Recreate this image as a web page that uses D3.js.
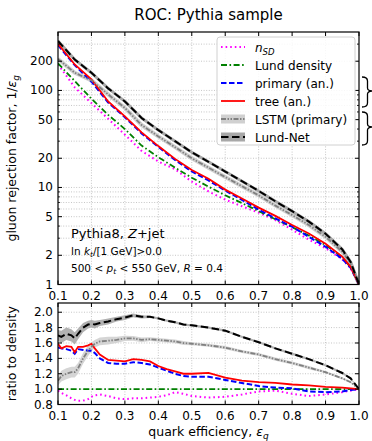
<!DOCTYPE html>
<html>
<head>
<meta charset="utf-8">
<script src="https://cdn.jsdelivr.net/npm/d3@7"></script>
<style>
  body { margin: 0; background: #fff; }
  svg { font-family: "DejaVu Sans", sans-serif; }
  .tick-label { font-size: 12px; fill: #000; }
</style>
</head>
<body>
<div id="chart"></div>
<script>
// ROC curves (top panel): quark efficiency vs gluon rejection
const rocEff = [0.1, 0.15, 0.2, 0.25, 0.3, 0.35, 0.4, 0.45, 0.5, 0.55, 0.6, 0.65, 0.7, 0.75, 0.8, 0.85, 0.9, 0.95, 0.975, 1.0];
const rocNsd      = [186, 107.5, 74, 51, 35, 23.8, 18.5, 15.4, 11.5, 9.1, 7.5, 6.4, 5.5, 4.6, 3.67, 2.9, 2.37, 1.82, 1.47, 1.0];
const rocDensity  = [190, 125, 82, 56, 40, 27, 20.5, 16, 12.6, 10.2, 8.3, 6.9, 5.7, 4.7, 3.9, 3.2, 2.55, 1.9, 1.5, 1.0];
const rocPrimary  = [293, 182, 123, 75, 53, 36, 26.2, 19.2, 14.6, 11.8, 9.3, 7.45, 5.9, 4.8, 3.94, 3.1, 2.45, 1.84, 1.49, 1.0];
const rocTree     = [302, 185, 130, 77, 54, 37, 26.7, 19.7, 15.1, 12.3, 9.5, 7.7, 6.2, 5.1, 4.1, 3.36, 2.63, 1.94, 1.52, 1.0];
const rocLstm     = [211, 152, 127, 91, 66, 44, 33.6, 26, 20, 16, 12.8, 10.3, 8.3, 6.5, 5.2, 4.1, 3.1, 2.17, 1.64, 1.0];
const rocLundNet  = [323, 208, 152, 105, 77, 52, 39, 30, 23, 18.4, 14.6, 11.6, 9.2, 7.2, 5.7, 4.45, 3.34, 2.3, 1.71, 1.0];

// ratio to Lund density (bottom panel)
const ratioEff = [0.1, 0.11, 0.125, 0.14, 0.15, 0.16, 0.175, 0.19, 0.2, 0.21, 0.225, 0.25, 0.275, 0.3, 0.325, 0.35, 0.375, 0.4, 0.425, 0.45, 0.475, 0.5, 0.55, 0.6, 0.65, 0.7, 0.75, 0.8, 0.85, 0.9, 0.95, 0.975, 1.0];
const ratioNsd     = [0.98, 0.95, 0.92, 0.88, 0.86, 0.85, 0.85, 0.87, 0.90, 0.92, 0.93, 0.91, 0.88, 0.87, 0.88, 0.88, 0.89, 0.90, 0.92, 0.96, 0.94, 0.91, 0.89, 0.90, 0.93, 0.97, 0.98, 0.94, 0.91, 0.93, 0.96, 0.98, 1.0];
const ratioDensity = [1, 1, 1, 1, 1, 1, 1, 1, 1, 1, 1, 1, 1, 1, 1, 1, 1, 1, 1, 1, 1, 1, 1, 1, 1, 1, 1, 1, 1, 1, 1, 1, 1];
const ratioPrimary = [1.54, 1.53, 1.52, 1.50, 1.46, 1.52, 1.51, 1.50, 1.50, 1.47, 1.40, 1.34, 1.33, 1.33, 1.35, 1.34, 1.32, 1.28, 1.24, 1.20, 1.17, 1.16, 1.16, 1.12, 1.08, 1.04, 1.02, 1.01, 0.97, 0.96, 0.97, 0.99, 1.0];
const ratioTree    = [1.59, 1.53, 1.56, 1.55, 1.48, 1.55, 1.55, 1.57, 1.59, 1.53, 1.45, 1.38, 1.37, 1.36, 1.39, 1.38, 1.36, 1.30, 1.26, 1.23, 1.20, 1.20, 1.21, 1.15, 1.11, 1.09, 1.08, 1.06, 1.05, 1.03, 1.02, 1.01, 1.0];
const ratioLstm    = [1.11, 1.17, 1.20, 1.22, 1.22, 1.27, 1.40, 1.50, 1.55, 1.59, 1.62, 1.63, 1.64, 1.66, 1.66, 1.64, 1.65, 1.64, 1.63, 1.62, 1.60, 1.59, 1.57, 1.54, 1.49, 1.45, 1.39, 1.34, 1.28, 1.22, 1.14, 1.09, 1.0];
const errLstm      = [0.06, 0.07, 0.07, 0.07, 0.07, 0.07, 0.07, 0.07, 0.06, 0.05, 0.05, 0.05, 0.04, 0.035, 0.03, 0.03, 0.025, 0.025, 0.025, 0.025, 0.025, 0.02, 0.02, 0.02, 0.02, 0.02, 0.02, 0.02, 0.02, 0.015, 0.015, 0.01, 0.005];
const ratioLundNet = [1.70, 1.68, 1.72, 1.70, 1.66, 1.72, 1.80, 1.84, 1.85, 1.84, 1.86, 1.88, 1.91, 1.93, 1.96, 1.94, 1.94, 1.92, 1.89, 1.87, 1.84, 1.83, 1.80, 1.76, 1.68, 1.61, 1.53, 1.46, 1.39, 1.31, 1.21, 1.14, 1.0];
const errLundNet   = [0.07, 0.08, 0.08, 0.08, 0.08, 0.07, 0.06, 0.05, 0.05, 0.05, 0.04, 0.04, 0.03, 0.03, 0.025, 0.02, 0.015, 0.015, 0.015, 0.015, 0.015, 0.015, 0.015, 0.015, 0.015, 0.015, 0.015, 0.015, 0.015, 0.015, 0.015, 0.01, 0.005];

const xTicks = [0.1, 0.2, 0.3, 0.4, 0.5, 0.6, 0.7, 0.8, 0.9, 1.0];
const rocTicks = [1, 2, 5, 10, 20, 50, 100, 200];
const ratioTicks = [0.8, 1.0, 1.2, 1.4, 1.6, 1.8, 2.0];

// series styles (order = legend order)
const series = [
  { key: "nsd", label: "n_SD", roc: rocNsd, ratio: ratioNsd, color: "#ff00ff", dash: "1.6,3", width: 2 },
  { key: "density", label: "Lund density", roc: rocDensity, ratio: ratioDensity, color: "#008000", dash: "6,2.5,1.6,2.5", width: 1.8 },
  { key: "primary", label: "primary (an.)", roc: rocPrimary, ratio: ratioPrimary, color: "#0000ff", dash: "5.5,2.5", width: 2 },
  { key: "tree", label: "tree (an.)", roc: rocTree, ratio: ratioTree, color: "#ff0000", dash: null, width: 1.8 },
  { key: "lstm", label: "LSTM (primary)", roc: rocLstm, ratio: ratioLstm, err: errLstm, color: "#808080", dash: "5,1.5,1.5,1.5,1.5,1.5", width: 1.8, band: "#d0d0d0", bandTop: 4 },
  { key: "lundnet", label: "Lund-Net", roc: rocLundNet, ratio: ratioLundNet, err: errLundNet, color: "#000000", dash: "7.5,3.5", width: 2, band: "#a8a8a8", bandTop: 3 }
];

const W = 372, H = 441;
const left = 58, right = 359;
const top1 = 32, bot1 = 284.5;
const top2 = 303, bot2 = 404.5;

const svg = d3.select("#chart").append("svg")
  .attr("width", W).attr("height", H);

const x = d3.scaleLinear().domain([0.1, 1.0]).range([left, right]);
const y1 = d3.scaleLog().domain([1, 400]).range([bot1, top1]);
const y2 = d3.scaleLinear().domain([0.8, 2.12]).range([bot2, top2]);

// clip paths
function addClip(id, y0, y1_) {
  svg.append("clipPath").attr("id", id).append("rect")
    .attr("x", left).attr("y", y0).attr("width", right - left).attr("height", y1_ - y0);
}
addClip("clip1", top1, bot1);
addClip("clip2", top2, bot2);

// dotted grid
function grid(g, yScale, yVals, y0, yb) {
  const gridStyle = sel => sel.attr("stroke", "#b8b8b8").attr("stroke-width", 0.8).attr("stroke-dasharray", "1,1.6");
  g.selectAll(".gx").data(xTicks.slice(1, -1)).enter().append("line")
    .attr("x1", d => x(d)).attr("x2", d => x(d)).attr("y1", y0).attr("y2", yb).call(gridStyle);
  g.selectAll(".gy").data(yVals).enter().append("line")
    .attr("x1", left).attr("x2", right).attr("y1", d => yScale(d)).attr("y2", d => yScale(d)).call(gridStyle);
}

// ---------- top panel ----------
const g1 = svg.append("g");
const rocMinor = [];
[1, 10, 100].forEach(dec => { for (let m = 1; m < 10; m++) { const v = dec * m; if (v > 1 && v < 400) rocMinor.push(v); } });
grid(g1, y1, rocMinor, top1, bot1);

const lineTop = (arr) => d3.line().x((d, i) => x(rocEff[i])).y(d => y1(d))(arr);
const c1 = g1.append("g").attr("clip-path", "url(#clip1)");
series.forEach(s => {
  if (s.band) {
    c1.append("path").attr("d", lineTop(s.roc)).attr("fill", "none")
      .attr("stroke", s.band).attr("stroke-width", s.bandTop).attr("stroke-linejoin", "round");
  }
});
series.forEach(s => {
  c1.append("path").attr("d", lineTop(s.roc)).attr("fill", "none")
    .attr("stroke", s.color).attr("stroke-width", s.width)
    .attr("stroke-dasharray", s.dash);
});

// ---------- bottom panel ----------
const g2 = svg.append("g");
grid(g2, y2, [1.0, 1.2, 1.4, 1.6, 1.8, 2.0], top2, bot2);
const c2 = g2.append("g").attr("clip-path", "url(#clip2)");
series.forEach(s => {
  if (s.err) {
    const area = d3.area()
      .x((d, i) => x(ratioEff[i]))
      .y0((d, i) => y2(d - s.err[i]))
      .y1((d, i) => y2(d + s.err[i]));
    c2.append("path").attr("d", area(s.ratio)).attr("fill", s.band).attr("opacity", 0.9);
  }
});
series.forEach(s => {
  const line = d3.line().x((d, i) => x(ratioEff[i])).y(d => y2(d));
  c2.append("path").attr("d", line(s.ratio)).attr("fill", "none")
    .attr("stroke", s.color).attr("stroke-width", s.width)
    .attr("stroke-dasharray", s.dash);
});

// ---------- axes (inward ticks on all sides) ----------
function frame(y0, yb, yScale, majors, minors, fmt, labelX) {
  const g = svg.append("g");
  g.append("rect").attr("x", left).attr("y", y0).attr("width", right - left).attr("height", yb - y0)
    .attr("fill", "none").attr("stroke", "#000").attr("stroke-width", 1.2);
  xTicks.forEach(v => {
    g.append("line").attr("x1", x(v)).attr("x2", x(v)).attr("y1", yb).attr("y2", yb - 4).attr("stroke", "#000");
    g.append("line").attr("x1", x(v)).attr("x2", x(v)).attr("y1", y0).attr("y2", y0 + 4).attr("stroke", "#000");
    g.append("text").attr("class", "tick-label").attr("x", x(v)).attr("y", yb + 15)
      .attr("text-anchor", "middle").text(v.toFixed(1));
  });
  majors.forEach(v => {
    g.append("line").attr("x1", left).attr("x2", left + 4).attr("y1", yScale(v)).attr("y2", yScale(v)).attr("stroke", "#000");
    g.append("line").attr("x1", right).attr("x2", right - 4).attr("y1", yScale(v)).attr("y2", yScale(v)).attr("stroke", "#000");
    g.append("text").attr("class", "tick-label").attr("x", labelX).attr("y", yScale(v) + 4)
      .attr("text-anchor", "end").text(fmt(v));
  });
  minors.forEach(v => {
    g.append("line").attr("x1", left).attr("x2", left + 2).attr("y1", yScale(v)).attr("y2", yScale(v)).attr("stroke", "#000").attr("stroke-width", 0.8);
    g.append("line").attr("x1", right).attr("x2", right - 2).attr("y1", yScale(v)).attr("y2", yScale(v)).attr("stroke", "#000").attr("stroke-width", 0.8);
  });
}
frame(top1, bot1, y1, rocTicks, rocMinor.filter(v => !rocTicks.includes(v)), d => String(d), 53);
frame(top2, bot2, y2, ratioTicks, [], d => d.toFixed(1), 53);

// ---------- titles & labels ----------
svg.append("text").attr("x", (left + right) / 2).attr("y", 20).attr("text-anchor", "middle")
  .style("font-size", "15px").text("ROC: Pythia sample");

const yl1 = svg.append("text").attr("transform", `translate(16,${(top1 + bot1) / 2}) rotate(-90)`)
  .attr("text-anchor", "middle").style("font-size", "12.5px");
yl1.append("tspan").text("gluon rejection factor, 1/");
yl1.append("tspan").style("font-style", "italic").text("ε");
yl1.append("tspan").style("font-style", "italic").style("font-size", "9px").attr("dy", 3).text("g");

svg.append("text").attr("transform", `translate(16,${(top2 + bot2) / 2}) rotate(-90)`)
  .attr("text-anchor", "middle").style("font-size", "12.5px").text("ratio to density");

const xl = svg.append("text").attr("x", (left + right) / 2).attr("y", 436)
  .attr("text-anchor", "middle").style("font-size", "12.5px");
xl.append("tspan").text("quark efficiency, ");
xl.append("tspan").style("font-style", "italic").text("ε");
xl.append("tspan").style("font-style", "italic").style("font-size", "9px").attr("dy", 3).text("q");

// annotation text
const a1 = svg.append("text").attr("x", 71).attr("y", 238).style("font-size", "13px");
a1.append("tspan").text("Pythia8, ");
a1.append("tspan").style("font-style", "italic").text("Z");
a1.append("tspan").text("+jet");

const a2 = svg.append("text").attr("x", 71).attr("y", 255).style("font-size", "10.5px");
a2.append("tspan").text("ln ");
a2.append("tspan").style("font-style", "italic").text("k");
a2.append("tspan").style("font-style", "italic").style("font-size", "7.5px").attr("dy", 2).text("t");
a2.append("tspan").attr("dy", -2).text("/[1 GeV]>0.0");

const a3 = svg.append("text").attr("x", 71).attr("y", 272).style("font-size", "10.5px");
a3.append("tspan").text("500 < ");
a3.append("tspan").style("font-style", "italic").text("p");
a3.append("tspan").style("font-style", "italic").style("font-size", "7.5px").attr("dy", 2).text("t");
a3.append("tspan").attr("dy", -2).text(" < 550 GeV, ");
a3.append("tspan").style("font-style", "italic").text("R");
a3.append("tspan").text(" = 0.4");

// ---------- legend ----------
const lg = svg.append("g");
lg.append("rect").attr("x", 217).attr("y", 37).attr("width", 138).attr("height", 108)
  .attr("rx", 3).attr("fill", "#fff").attr("fill-opacity", 0.85).attr("stroke", "#d0d0d0");
series.forEach((s, i) => {
  const yy = 47 + i * 18;
  if (s.band) {
    lg.append("rect").attr("x", 221).attr("y", yy - 4.5).attr("width", 24).attr("height", 9).attr("fill", s.band);
  }
  lg.append("line").attr("x1", 221).attr("x2", 245).attr("y1", yy).attr("y2", yy)
    .attr("stroke", s.color).attr("stroke-width", s.width).attr("stroke-dasharray", s.dash);
  const t = lg.append("text").attr("x", 255).attr("y", yy + 4.5).style("font-size", "12px");
  if (s.key === "nsd") {
    t.append("tspan").style("font-style", "italic").text("n");
    t.append("tspan").style("font-style", "italic").style("font-size", "8.5px").attr("dy", 3).text("SD");
  } else {
    t.text(s.label);
  }
});

// braces sticking out on the right
function brace(yTop, yBot, yTip) {
  const xa = 362, xb = 367.5, xt = 373;
  const p = `M${xa},${yTop} Q${xb},${yTop} ${xb},${yTop + 4} L${xb},${yTip - 3} Q${xb},${yTip} ${xt},${yTip}` +
    ` Q${xb},${yTip} ${xb},${yTip + 3} L${xb},${yBot - 4} Q${xb},${yBot} ${xa},${yBot}`;
  svg.append("path").attr("d", p).attr("fill", "none").attr("stroke", "#000").attr("stroke-width", 1.3);
}
brace(77, 107, 91);
brace(112, 145, 127);
</script>
</body>
</html>
